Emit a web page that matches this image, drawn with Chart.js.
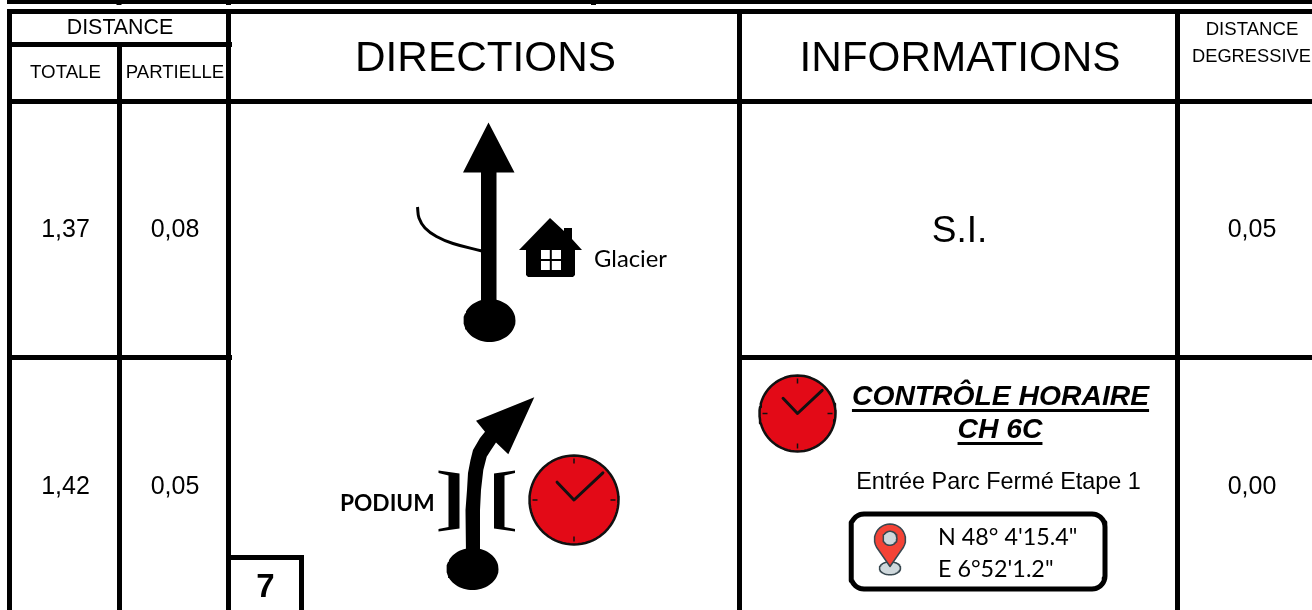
<!DOCTYPE html>
<html>
<head>
<meta charset="utf-8">
<title>Roadbook</title>
<script src="https://cdn.jsdelivr.net/npm/chart.js@4"></script>
<style>
    html, body { margin: 0; padding: 0; background: #fff; overflow: hidden; }
    canvas { display: block; }
</style>
</head>
<body>
<canvas id="roadbook" width="1312" height="610"></canvas>
<script>
// Table values
const totalDistances = ['1,37', '1,42'];
const partialDistances = ['0,08', '0,05'];
const remainingDistances = ['0,05', '0,00'];
const rowBaselines = [237, 494];
const mainHeaders = ['DIRECTIONS', 'INFORMATIONS'];
const infoTitles = ['CONTRÔLE HORAIRE', 'CH 6C'];
const coordinates = ['N 48° 4\'15.4"', 'E 6°52\'1.2"'];

// Grid rules, as [x1, y1, x2, y2]
const gridRules = [
    [7, 2, 1312, 2],
    [7, 11.5, 1312, 11.5],
    [9.5, 9, 9.5, 610],
    [228.5, 9, 228.5, 610],
    [739.5, 9, 739.5, 610],
    [1177.5, 9, 1177.5, 610],
    [119.5, 45, 119.5, 610],
    [7, 44.5, 232, 44.5],
    [7, 101.5, 1312, 101.5],
    [7, 357.5, 232, 357.5],
    [737, 357.5, 1312, 357.5],
    [228.5, 557.5, 304, 557.5],
    [301.5, 555, 301.5, 610]
];
const topTicks = [119, 228.5, 593.5];

// Road pictos
const straightArrow = [[488.5, 122.5], [514.5, 172.5], [496.5, 172.5], [496.5, 305], [481, 305], [481, 172.5], [463, 172.5]];
const sideRoad = [[417.5, 207], [419, 218], [425, 228], [436.5, 236.5], [453, 243.5], [482, 251]];
const bendArrow = [
    [534.3, 397.3], [508.3, 454.3], [496, 442.5], [491, 450], [486.7, 456.7], [483.3, 470], [481, 490], [480, 510], [480, 555],
    [466, 555], [465.5, 510], [467, 490], [468, 473], [470.5, 460], [473, 450], [480, 438], [485, 431.7], [476, 420.7]
];
const leftBracket = [[438.5, 470.5], [459.5, 473.5], [459.5, 528.5], [438.5, 531.5], [438.5, 529], [448.5, 527], [448.5, 475.5], [438.5, 473]];
const rightBracket = [[515, 470.5], [494, 473.5], [494, 528.5], [515, 531.5], [515, 529], [504.5, 527], [504.5, 475.5], [515, 473]];
const house = [[550, 218], [564, 231], [564, 228], [572, 228], [572, 239], [582, 250], [575, 250], [575, 275], [573, 277], [528, 277], [526, 275], [526, 250], [519, 250]];
const houseWindow = [[541, 250], [561, 250], [561, 270], [541, 270]];
const houseBars = [[550.8, 250, 550.8, 270], [541, 260, 561, 260]];

const datasets = [];

function toPoints(list) {
    return list.map(p => ({ x: p[0], y: p[1] }));
}

function addLine(list, color, width, tension, round) {
    datasets.push({
        data: toPoints(list),
        showLine: true,
        fill: false,
        borderColor: color,
        borderWidth: width,
        borderCapStyle: round ? 'round' : 'butt',
        borderJoinStyle: round ? 'round' : 'miter',
        pointRadius: 0,
        tension: tension || 0
    });
}

function addShape(list, color, edge, edgeWidth) {
    const closed = list.concat([list[0]]);
    datasets.push({
        data: toPoints(closed),
        showLine: true,
        fill: 'shape',
        backgroundColor: color,
        borderColor: edge || color,
        borderWidth: edgeWidth || 0,
        borderCapStyle: 'round',
        borderJoinStyle: 'round',
        pointRadius: 0,
        tension: 0
    });
}

function ellipse(cx, cy, rx, ry) {
    const pts = [];
    for (let i = 0; i < 72; i++) {
        const a = i / 72 * Math.PI * 2;
        pts.push([cx + Math.cos(a) * rx, cy + Math.sin(a) * ry]);
    }
    return pts;
}

function roundedBox(x1, y1, x2, y2, r) {
    const pts = [];
    const corners = [[x2 - r, y1 + r, -90], [x2 - r, y2 - r, 0], [x1 + r, y2 - r, 90], [x1 + r, y1 + r, 180]];
    corners.forEach(c => {
        for (let d = 0; d <= 90; d += 10) {
            const a = (c[2] + d) * Math.PI / 180;
            pts.push([c[0] + Math.cos(a) * r, c[1] + Math.sin(a) * r]);
        }
    });
    pts.push(pts[0]);
    return pts;
}

function addClock(cx, cy, r) {
    addShape(ellipse(cx, cy, r, r), '#e30a17', '#111111', 2.5);
    addLine([[cx, cy - r + 3], [cx, cy - r + 8]], '#111111', 1.5);
    addLine([[cx, cy + r - 3], [cx, cy + r - 8]], '#111111', 1.5);
    addLine([[cx - r + 3, cy], [cx - r + 8, cy]], '#111111', 1.5);
    addLine([[cx + r - 3, cy], [cx + r - 8, cy]], '#111111', 1.5);
    addLine([[cx - 0.38 * r, cy - 0.4 * r], [cx, cy], [cx + 0.65 * r, cy - 0.61 * r]], '#111111', 3, 0, true);
}

function addPin(cx) {
    addShape(ellipse(cx, 568.3, 10.5, 6.5), '#cfd8dc', '#37474f', 1.5);
    const head = [];
    for (let d = 150; d <= 390; d += 10) {
        const a = d * Math.PI / 180;
        head.push([cx + Math.cos(a) * 15.5, 539.5 + Math.sin(a) * 15.5]);
    }
    addShape(head.concat([[cx, 566.5]]), '#f44336', '#37474f', 1.5);
    addShape(ellipse(cx, 538.3, 7, 7), '#cfd8dc', '#37474f', 1.5);
}

// Build marks in paint order
gridRules.forEach(r => addLine([[r[0], r[1]], [r[2], r[3]]], '#000000', r[1] === 2 ? 4 : 5));
topTicks.forEach(x => addLine([[x, 3], [x, 5]], '#000000', 5));

addLine(sideRoad, '#000000', 3, 0.4);
addShape(straightArrow, '#000000');
addShape(ellipse(489.5, 320.5, 26, 21.5), '#000000');
addShape(house, '#000000');
addShape(houseWindow, '#ffffff');
houseBars.forEach(b => addLine([[b[0], b[1]], [b[2], b[3]]], '#000000', 2));

addShape(bendArrow, '#000000');
addShape(ellipse(472.5, 569, 26, 21), '#000000');
addShape(leftBracket, '#000000');
addShape(rightBracket, '#000000');
addClock(574, 500, 44.5);
addClock(797.5, 413.5, 38);

addLine(roundedBox(851, 514, 1105, 589, 13), '#000000', 5, 0, true);
addPin(890);

// Text labels, placed in data coordinates
const ARIAL = '"Liberation Sans"';
const CALIBRI = 'Lato';
const labels = [
    { text: 'DISTANCE', x: 120, y: 34, font: `21.4px ${ARIAL}`, align: 'center' },
    { text: 'TOTALE', x: 65.5, y: 78, font: `18.7px ${ARIAL}`, align: 'center' },
    { text: 'PARTIELLE', x: 175, y: 78, font: `18.6px ${ARIAL}`, align: 'center' },
    { text: mainHeaders[0], x: 485.5, y: 71, font: `42.3px ${ARIAL}`, align: 'center' },
    { text: mainHeaders[1], x: 960, y: 71, font: `42.3px ${ARIAL}`, align: 'center' },
    { text: 'DISTANCE', x: 1252, y: 35, font: `18.6px ${ARIAL}`, align: 'center' },
    { text: 'DEGRESSIVE', x: 1192, y: 62, font: `18.3px ${ARIAL}`, align: 'left' },
    { text: 'S.I.', x: 959.5, y: 242, font: `37px ${ARIAL}`, align: 'center' },
    { text: 'Glacier', x: 594, y: 267, font: `23.8px ${CALIBRI}`, align: 'left' },
    { text: 'PODIUM', x: 340, y: 511, font: `bold 22.7px ${CALIBRI}`, align: 'left' },
    { text: '7', x: 265.5, y: 596.5, font: `bold 33px ${ARIAL}`, align: 'center' },
    { text: infoTitles[0], x: 1000.5, y: 405, font: `italic bold 28.3px ${ARIAL}`, align: 'center', underline: 410.5 },
    { text: infoTitles[1], x: 1000, y: 438, font: `italic bold 28.3px ${ARIAL}`, align: 'center', underline: 443.5 },
    { text: 'Entrée Parc Fermé Etape 1', x: 998.5, y: 489, font: `23.4px ${ARIAL}`, align: 'center' },
    { text: coordinates[0], x: 938, y: 545, font: `23.3px ${CALIBRI}`, align: 'left' },
    { text: coordinates[1], x: 938, y: 577, font: `23.3px ${CALIBRI}`, align: 'left' }
];
rowBaselines.forEach((y, i) => {
    labels.push({ text: totalDistances[i], x: 65.5, y: y, font: `25px ${ARIAL}`, align: 'center' });
    labels.push({ text: partialDistances[i], x: 175, y: y, font: `25px ${ARIAL}`, align: 'center' });
    labels.push({ text: remainingDistances[i], x: 1252, y: y, font: `25px ${ARIAL}`, align: 'center' });
});

const labelPlugin = {
    id: 'roadbookLabels',
    afterDatasetsDraw(chart) {
        const ctx = chart.ctx;
        const xs = chart.scales.x;
        const ys = chart.scales.y;
        ctx.save();
        ctx.fillStyle = '#000000';
        ctx.textBaseline = 'alphabetic';
        labels.forEach(l => {
            const px = xs.getPixelForValue(l.x);
            const py = ys.getPixelForValue(l.y);
            ctx.font = l.font;
            ctx.textAlign = l.align;
            ctx.fillText(l.text, px, py);
            if (l.underline) {
                const w = ctx.measureText(l.text).width;
                ctx.fillRect(px - w / 2, ys.getPixelForValue(l.underline) - 1.5, w, 3);
            }
        });
        ctx.restore();
    }
};

new Chart(document.getElementById('roadbook'), {
    type: 'scatter',
    data: { datasets: datasets.reverse() },
    options: {
        responsive: false,
        animation: false,
        layout: { padding: 0 },
        plugins: {
            legend: { display: false },
            tooltip: { enabled: false }
        },
        scales: {
            x: { type: 'linear', min: 0, max: 1312, display: false },
            y: { type: 'linear', min: 0, max: 610, reverse: true, display: false }
        }
    },
    plugins: [labelPlugin]
});
</script>
</body>
</html>
